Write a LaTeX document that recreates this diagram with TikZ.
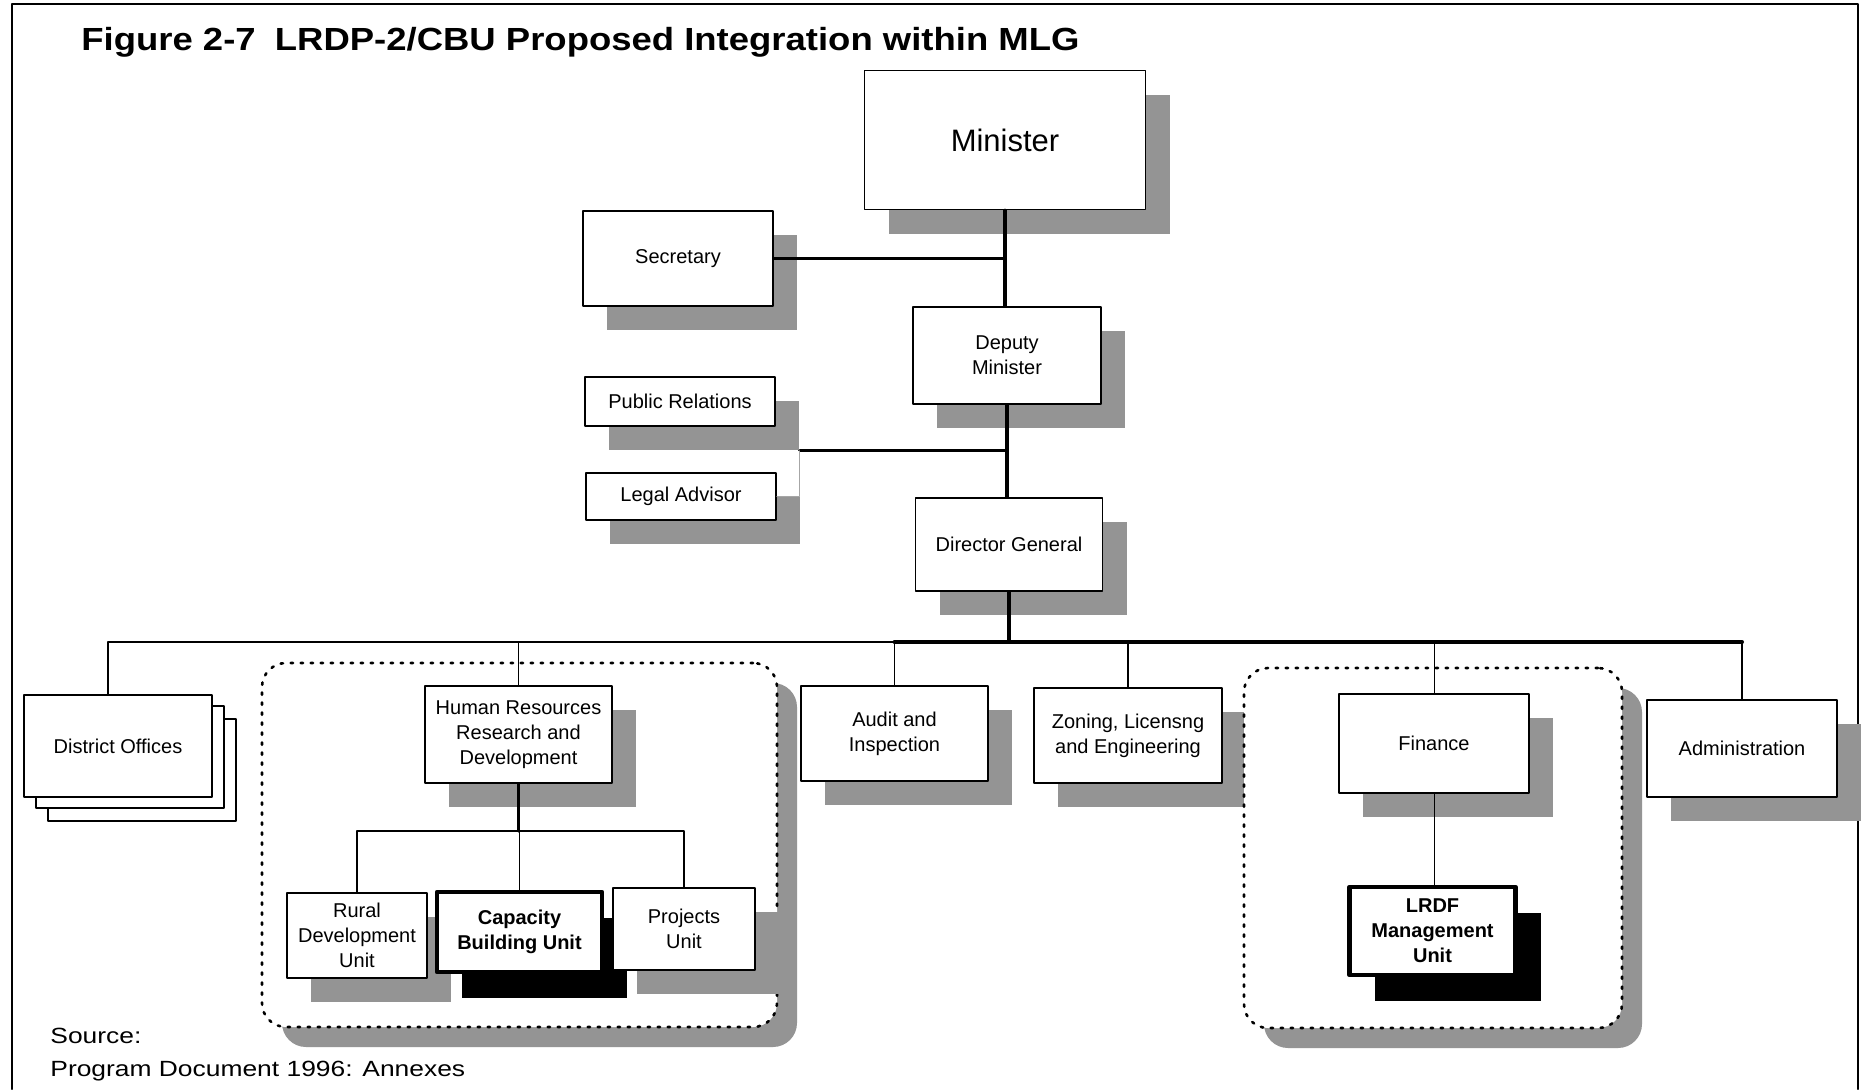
\documentclass[tikz,border=0pt]{standalone}
\usepackage{fontspec}
\setmainfont{Liberation Sans}
\newfontfamily\titlefont[FakeStretch=1.14]{Liberation Sans}
\newfontfamily\notefont[FakeStretch=1.2]{Liberation Sans}
\usepackage{tikz}
\usetikzlibrary{shadows}

\begin{document}
\begin{tikzpicture}[line cap=round,line join=round,x=0.5pt,y=-0.5pt,
  box/.style={draw,line width=0.8pt,fill=white,align=center,inner sep=1pt,
    minimum width=94pt,minimum height=48pt,font=\fontsize{10}{12.5}\selectfont},
  unit/.style={box,general shadow={draw=none,fill=black!42,opacity=1,shadow xshift=12pt,shadow yshift=-12pt}},
  keyunit/.style={box,line width=2.2pt,font=\fontsize{10}{12.5}\selectfont\bfseries,
    general shadow={draw=none,fill=black,opacity=1,shadow xshift=12.5pt,shadow yshift=-13pt}},
  sheet/.style={box,minimum width=94pt,minimum height=51pt},
  cluster/.style={draw,fill=white,line width=1.3pt,dash pattern=on 1.2pt off 3.8pt,rounded corners=12pt,
    general shadow={draw=none,fill=black!42,opacity=1,shadow xshift=10pt,shadow yshift=-10pt}},
  note/.style={anchor=base west,inner sep=0pt,font=\notefont\fontsize{11}{13}\selectfont},
  trunk/.style={line width=1.6pt},
  branch/.style={line width=0.9pt},
  twig/.style={line width=0.5pt},
  faint/.style={line width=0.4pt,black!35}]
\useasboundingbox[fill=white] (0,0) rectangle (1867,1089);
\draw[line width=1pt] (12,1089) -- (12,4) -- (1858,4) -- (1858,1089);

\node[anchor=base west,inner sep=0pt,font=\titlefont\fontsize{16}{19}\selectfont\bfseries] (title) at (81,50)
  {Figure 2-7\hspace{0.6em}LRDP-2/CBU Proposed Integration within MLG};

\node[unit,minimum width=140.5pt,minimum height=69.5pt,font=\fontsize{15.5}{18}\selectfont] (min) at (1005,140) {Minister};
\node[unit,minimum width=95pt,minimum height=47.5pt] (sec) at (678,258.5) {Secretary};
\node[unit,minimum height=48.5pt] (dep) at (1007,355.5) {Deputy\\Minister};
\node[unit,minimum width=95pt,minimum height=24.5pt] (pr) at (680,401.5) {Public Relations};
\node[unit,minimum width=95pt,minimum height=23.5pt] (legal) at (681,496.5) {Legal Advisor};
\node[unit,minimum width=93.5pt,minimum height=46.5pt] (dg) at (1009,544.5) {Director General};

\node[sheet] (do3) at (142,770) {};
\node[sheet] (do2) at (130,757) {};
\node[sheet] (do) at (118,746) {District Offices};

\node[cluster,minimum width=257.5pt,minimum height=182pt] (hrgroup) at (519.5,845) {};
\node[unit,minimum width=93.5pt,minimum height=48.5pt] (hr) at (518.5,734.5) {Human Resources\\Research and\\Development};
\node[unit,minimum width=70pt,minimum height=42.5pt] (rd) at (357,935.5) {Rural\\Development\\Unit};
\node[keyunit,minimum width=82.5pt,minimum height=40pt] (cbu) at (519.5,932) {Capacity\\Building Unit};
\node[unit,minimum width=71pt,minimum height=41pt] (pu) at (684,929) {Projects\\Unit};

\node[unit,minimum width=93.5pt,minimum height=47.5pt] (au) at (894.5,733.5) {Audit and\\Inspection};
\node[unit,minimum height=47.5pt] (zo) at (1128,735.5) {Zoning, Licensng\\and Engineering};

\node[cluster,minimum width=189pt,minimum height=180pt] (fingroup) at (1433,848) {};
\node[unit,minimum width=95pt,minimum height=49.5pt] (fi) at (1434,743.5) {Finance};
\node[keyunit,minimum width=83pt,minimum height=44pt] (lr) at (1432.5,931) {LRDF\\Management\\Unit};

\node[unit,minimum width=95pt,minimum height=48.5pt] (ad) at (1742,748.5) {Administration};

\node[note] (source) at (50,1043) {Source:};
\node[note] (sourcedoc) at (50,1076) {Program Document 1996: Annexes};

\coordinate (bus) at (0,642);
\coordinate (sub) at (0,831);
\coordinate (prlink) at ([shift={(24,24)}]pr.south east);

\draw[trunk] (min.south) -- (min.south |- dep.north);
\draw[trunk] (sec.east) -- (sec.east -| min.south);
\draw[trunk] (dep.south) -- (dep.south |- dg.north);
\draw[trunk] (prlink) -- (prlink -| dep.south);
\draw[faint] (prlink) |- (legal.east);
\draw[trunk] (dg.south) -- (dg.south |- bus);

\draw[branch] ([xshift=-5pt]do.north) -- ([xshift=-5pt]do.north |- bus) -- (au.north |- bus);
\draw[line width=2pt] (au.north |- bus) -- (ad.north |- bus);
\draw[twig] (hr.north) -- (hr.north |- bus);
\draw[branch] (au.north) -- (au.north |- bus);
\draw[branch] (zo.north) -- (zo.north |- bus);
\draw[twig] (fi.north) -- (fi.north |- bus);
\draw[branch] (ad.north) -- (ad.north |- bus);

\draw[trunk] (hr.south) -- (hr.south |- sub);
\draw[branch] (rd.north) -- (rd.north |- sub) -- (pu.north |- sub) -- (pu.north);
\draw[branch] (cbu.north) -- (cbu.north |- sub);
\draw[twig] (fi.south) -- (fi.south |- lr.north);
\end{tikzpicture}
\end{document}
